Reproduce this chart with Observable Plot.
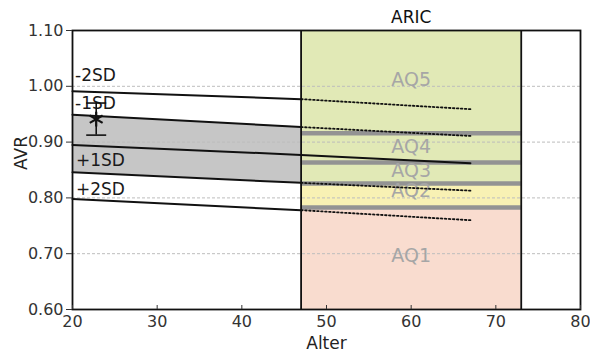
<!DOCTYPE html>
<html>
<head>
<meta charset="utf-8">
<script src="https://cdn.jsdelivr.net/npm/d3@7"></script>
<script src="https://cdn.jsdelivr.net/npm/@observablehq/plot@0.6"></script>
<style>
  html, body { margin: 0; padding: 0; background: #fff; }
  #chart { width: 590px; height: 352px; }
</style>
</head>
<body>
<div id="chart"></div>
<script>
// ---- data ----
const xTicks = [20, 30, 40, 50, 60, 70, 80];
const yTicks = [0.6, 0.7, 0.8, 0.9, 1.0, 1.1];
const gridY = [0.7, 0.8, 0.9, 1.0];

// own reference lines (solid), ages 20..47
const refAges = [20, 47];
const sdM2 = [0.991, 0.977];
const sdM1 = [0.949, 0.927];
const sdP1 = [0.846, 0.827];
const sdP2 = [0.798, 0.778];
// mean line (solid), ages 20..67
const meanAges = [20, 47, 67];
const meanVals = [0.895, 0.877, 0.862];
// ARIC projections (dotted), ages 47..67
const aricAges = [47, 67];
const aricM2 = [0.977, 0.959];
const aricM1 = [0.927, 0.911];
const aricP1 = [0.827, 0.813];
const aricP2 = [0.778, 0.760];

// ARIC quintile bands
const aqRange = [47, 73];
const aqNames = ["AQ1", "AQ2", "AQ3", "AQ4", "AQ5"];
const aqLow = [0.60, 0.783, 0.826, 0.8635, 0.916];
const aqHigh = [0.783, 0.826, 0.8635, 0.916, 1.10];
const aqColors = ["#f9dccf", "#f8f1b4", "#e1e9b6", "#e1e9b6", "#e1e9b6"];
const aqLabelX = [60, 60, 60, 60, 60];
const aqLabelY = [0.6957, 0.813, 0.8487, 0.8916, 1.0106];
const aqBoundaries = [0.783, 0.826, 0.8635, 0.916];

// SD labels
const sdLabels = ["-2SD", "-1SD", "+1SD", "+2SD"];
const sdLabelX = [20.3, 20.3, 20.4, 20.4];
const sdLabelY = [1.0186, 0.9685, 0.8666, 0.8156];

// measurement
const measAge = [22.8];
const measVal = [0.941];
const measLo = [0.9125];
const measHi = [0.970];

const title = ["ARIC"];
const titleX = [60];

// ---- tables ----
const refTable = refAges.map((a, i) => ({age: a, m2: sdM2[i], m1: sdM1[i], p1: sdP1[i], p2: sdP2[i]}));
const meanTable = meanAges.map((a, i) => ({age: a, v: meanVals[i]}));
const aricTable = aricAges.map((a, i) => ({age: a, m2: aricM2[i], m1: aricM1[i], p1: aricP1[i], p2: aricP2[i]}));
const aqTable = aqNames.map((n, i) => ({name: n, x1: aqRange[0], x2: aqRange[1], lo: aqLow[i], hi: aqHigh[i], color: aqColors[i], lx: aqLabelX[i], ly: aqLabelY[i]}));
const boundTable = aqBoundaries.map(b => ({y: b, x1: aqRange[0], x2: aqRange[1]}));
const sdLabTable = sdLabels.map((t, i) => ({t, x: sdLabelX[i], y: sdLabelY[i]}));
const meas = measAge.map((a, i) => ({x: a, y: measVal[i], lo: measLo[i], hi: measHi[i]}));
const edgeTable = aqRange.map(x => ({x}));

const capSymbol = {
  draw(ctx, size) {
    const r = Math.sqrt(size / Math.PI);
    ctx.moveTo(-r, 0);
    ctx.lineTo(r, 0);
  }
};

const dotted = {stroke: "#111", strokeWidth: 1.8, strokeDasharray: "1.6,2.4"};
const solid = {stroke: "#111", strokeWidth: 2};

const chart = Plot.plot({
  width: 590,
  height: 352,
  marginLeft: 72,
  marginRight: 10,
  marginTop: 30,
  marginBottom: 43,
  style: {fontFamily: "DejaVu Sans", background: "#fff"},
  x: {domain: [20, 80], ticks: xTicks},
  y: {domain: [0.6, 1.1], ticks: yTicks},
  marks: [
    Plot.rect(aqTable, {x1: "x1", x2: "x2", y1: "lo", y2: "hi", fill: "color"}),
    Plot.areaY(refTable, {x: "age", y1: "m1", y2: "p1", fill: "#c6c6c6"}),
    Plot.ruleY(gridY, {stroke: "#bdbdbd", strokeWidth: 1, strokeDasharray: "3,2"}),
    Plot.ruleY(boundTable, {y: "y", x1: "x1", x2: "x2", stroke: "#939393", strokeWidth: 4.5}),
    Plot.text(aqTable, {x: "lx", y: "ly", text: "name", fill: "#a6a6a6", fontSize: 19}),
    Plot.line(refTable, {x: "age", y: "m2", ...solid}),
    Plot.line(refTable, {x: "age", y: "m1", ...solid}),
    Plot.line(refTable, {x: "age", y: "p1", ...solid}),
    Plot.line(refTable, {x: "age", y: "p2", ...solid}),
    Plot.line(meanTable, {x: "age", y: "v", ...solid}),
    Plot.line(aricTable, {x: "age", y: "m2", ...dotted}),
    Plot.line(aricTable, {x: "age", y: "m1", ...dotted}),
    Plot.line(aricTable, {x: "age", y: "p1", ...dotted}),
    Plot.line(aricTable, {x: "age", y: "p2", ...dotted}),
    Plot.ruleX(edgeTable, {x: "x", stroke: "#111", strokeWidth: 1.8}),
    Plot.text(sdLabTable, {x: "x", y: "y", text: "t", textAnchor: "start", fill: "#1a1a1a", fontSize: 17}),
    Plot.ruleX(meas, {x: "x", y1: "lo", y2: "hi", stroke: "#111", strokeWidth: 1.6}),
    Plot.dot(meas, {x: "x", y: "lo", symbol: capSymbol, r: 10, stroke: "#111", strokeWidth: 1.6}),
    Plot.dot(meas, {x: "x", y: "hi", symbol: capSymbol, r: 10, stroke: "#111", strokeWidth: 1.6}),
    Plot.dot(meas, {x: "x", y: "y", symbol: "asterisk", r: 7, stroke: "#111", strokeWidth: 2.2}),
    Plot.frame({stroke: "#111", strokeWidth: 1.8}),
    Plot.axisY(yTicks, {tickFormat: d3.format(".2f"), tickSize: 6, tickPadding: 3, fontSize: 16, fill: "#333", stroke: "#333", label: null}),
    Plot.axisX(xTicks, {tickSize: -4, tickPadding: 10, fontSize: 16, fill: "#333", stroke: "#333", label: null}),
    Plot.text(["AVR"], {frameAnchor: "left", dx: -51, rotate: -90, fontSize: 17, fill: "#222"}),
    Plot.text(["Alter"], {x: [50], frameAnchor: "bottom", lineAnchor: "middle", dy: 34, fontSize: 17, fill: "#222"}),
    Plot.text(title, {x: titleX, frameAnchor: "top", lineAnchor: "middle", dy: -13, fontSize: 17, fill: "#111"})
  ]
});
document.getElementById("chart").appendChild(chart);
</script>
</body>
</html>
